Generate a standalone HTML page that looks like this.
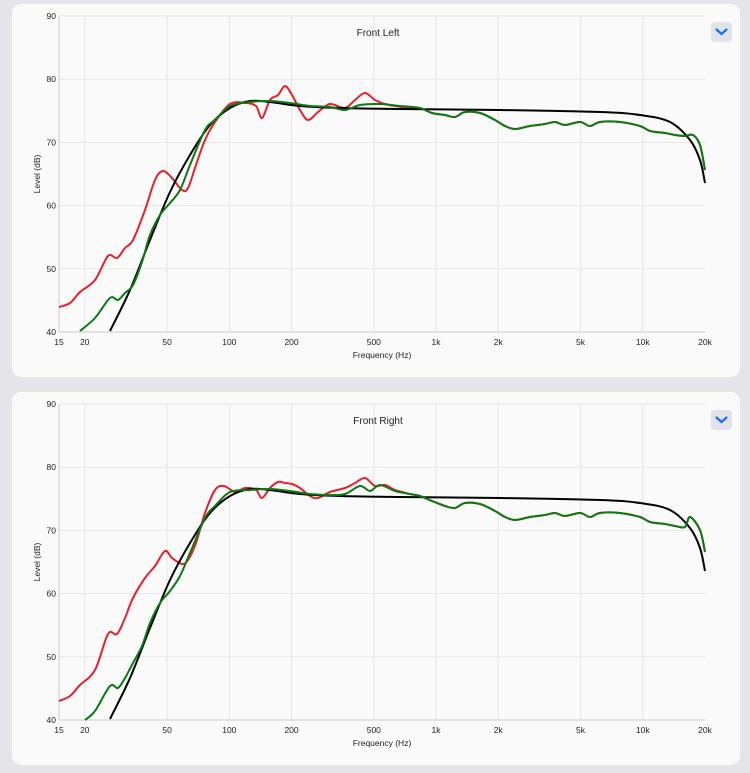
<!DOCTYPE html>
<html><head><meta charset="utf-8"><style>
html,body{margin:0;padding:0;background:#e4e4e9;width:750px;height:773px;overflow:hidden;font-family:"Liberation Sans",sans-serif}
</style></head><body>
<svg id="s" width="750" height="773" xmlns="http://www.w3.org/2000/svg" font-family="Liberation Sans, sans-serif">
<rect x="12" y="4" width="728" height="373" rx="9" fill="#fafafa"/>
<rect x="12" y="392" width="728" height="373" rx="9" fill="#fafafa"/>
<g id="g1"></g>
<g id="g2" transform="translate(0,388)"></g>
</svg>
<script>
const NS="http://www.w3.org/2000/svg";
function el(p,t,a,txt){const e=document.createElementNS(NS,t);for(const k in a)e.setAttribute(k,a[k]);if(txt)e.textContent=txt;p.appendChild(e);return e;}
const X0=59,X1=705,Y0=16,Y1=332;
const fx=f=>X0+(Math.log10(f)-Math.log10(15))/(Math.log10(20000)-Math.log10(15))*(X1-X0);
const dy=d=>Y1-(d-40)/50*(Y1-Y0);
function cr(pts){let d="M"+pts[0][0]+","+pts[0][1];for(let i=0;i<pts.length-1;i++){const p0=pts[i-1]||pts[i],p1=pts[i],p2=pts[i+1],p3=pts[i+2]||p2;d+=` C${p1[0]+(p2[0]-p0[0])/6},${p1[1]+(p2[1]-p0[1])/6} ${p2[0]-(p3[0]-p1[0])/6},${p2[1]-(p3[1]-p1[1])/6} ${p2[0]},${p2[1]}`;}return d;}
function chart(g,title,red,green,black){
 [20,50,100,200,500,1000,2000,5000,10000].forEach(f=>el(g,"line",{x1:fx(f),x2:fx(f),y1:Y0,y2:Y1,stroke:"#e6e6e6","stroke-width":1}));
 [50,60,70,80,90].forEach(d=>el(g,"line",{x1:X0,x2:X1,y1:dy(d),y2:dy(d),stroke:"#e6e6e6","stroke-width":1}));
 el(g,"line",{x1:X0,x2:X0,y1:Y0,y2:Y1,stroke:"#ccc"});el(g,"line",{x1:X0,x2:X1,y1:Y1,y2:Y1,stroke:"#ccc"});
 [40,50,60,70,80,90].forEach(d=>el(g,"text",{x:X0-3,y:dy(d)+3,"font-size":8.5,"text-anchor":"end",fill:"#222"},String(d)));
 [[15,"15"],[20,"20"],[50,"50"],[100,"100"],[200,"200"],[500,"500"],[1000,"1k"],[2000,"2k"],[5000,"5k"],[10000,"10k"],[20000,"20k"]].forEach(([f,t])=>el(g,"text",{x:fx(f),y:345,"font-size":8.5,"text-anchor":"middle",fill:"#222"},t));
 el(g,"text",{x:382,y:358,"font-size":8.5,"text-anchor":"middle",fill:"#222"},"Frequency (Hz)");
 el(g,"text",{x:40,y:174,"font-size":8.5,"text-anchor":"middle",fill:"#222",transform:"rotate(-90 40 174)"},"Level (dB)");
 el(g,"text",{x:378,y:36,"font-size":10,"text-anchor":"middle",fill:"#222"},title);
 el(g,"rect",{x:711,y:22,width:21,height:20,rx:4,fill:"#e2e3ea"});
 el(g,"path",{d:"M716.5,29.5 L721.5,34 L726.5,29.5",stroke:"#1a6ff0","stroke-width":2.2,fill:"none","stroke-linecap":"round"});
 el(g,"path",{d:cr(red),stroke:"#e8202a","stroke-width":2,fill:"none"});
 el(g,"path",{d:cr(black),stroke:"#000","stroke-width":2,fill:"none"});
 el(g,"path",{d:cr(green),stroke:"#0a7a12","stroke-width":2,fill:"none"});
}
const tailG=[[420,108],[432,113],[445,115],[455,117],[465,112],[480,113],[495,120],[505,126],[515,129],[530,126],[545,124],[555,122],[565,125],[580,122],[590,126],[600,122],[620,122],[640,126],[650,131],[665,133],[675,135],[685,136],[693,135],[700,145],[705,170]];
const red1=[[59,307],[70,303],[80,292],[95,280],[108,256],[117,258],[125,248],[133,240],[145,210],[155,180],[163,171],[172,178],[182,190],[188,188],[196,165],[205,140],[215,122],[230,104],[245,103],[256,106],[262,118],[270,100],[278,95],[285,86],[292,95],[300,110],[308,120],[318,112],[330,104],[345,108],[355,100],[365,93],[375,100],[385,104],[395,106],[410,108]].concat(tailG);
const green1=[[80,331],[95,318],[110,298],[118,300],[125,293],[133,285],[142,262],[150,235],[160,215],[170,203],[180,190],[190,165],[205,130],[215,120],[230,106],[250,102],[270,101],[290,103],[310,106],[330,107],[345,110],[360,105],[380,104],[400,106]].concat(tailG);
const black=[[110,331],[130,290],[150,240],[170,192],[190,155],[210,125],[230,108],[250,101],[270,102],[300,106],[340,108],[400,109],[500,110],[600,112],[640,115],[670,122],[690,140],[700,160],[705,183]];
chart(document.getElementById("g1"),"Front Left",red1,green1,black);
const tailG2=tailG.map(p=>[p[0],p[1]+(p[0]>440?3:0)]);tailG2[tailG2.length-1]=[705,164];tailG2[tailG2.length-2]=[700,142];tailG2[tailG2.length-3]=[690,129];
const red2=[[59,313],[70,308],[80,297],[95,282],[108,246],[117,246],[125,230],[133,210],[145,190],[155,178],[165,163],[172,170],[182,176],[188,172],[196,155],[205,125],[215,102],[224,98],[235,104],[245,100],[256,102],[262,110],[270,100],[278,94],[285,95],[292,96],[300,100],[310,108],[318,110],[330,104],[345,100],[355,95],[365,90],[375,98],[385,97],[395,102],[410,106]].concat(tailG2);
const green2=[[85,332],[95,323],[110,298],[118,300],[125,290],[133,275],[142,258],[150,235],[160,215],[170,203],[180,188],[190,165],[205,130],[215,118],[230,104],[250,102],[270,101],[290,103],[310,106],[330,107],[345,106],[360,98],[370,103],[380,97],[395,103],[410,106]].concat(tailG2);
chart(document.getElementById("g2"),"Front Right",red2,green2,black);
</script>
</body></html>
